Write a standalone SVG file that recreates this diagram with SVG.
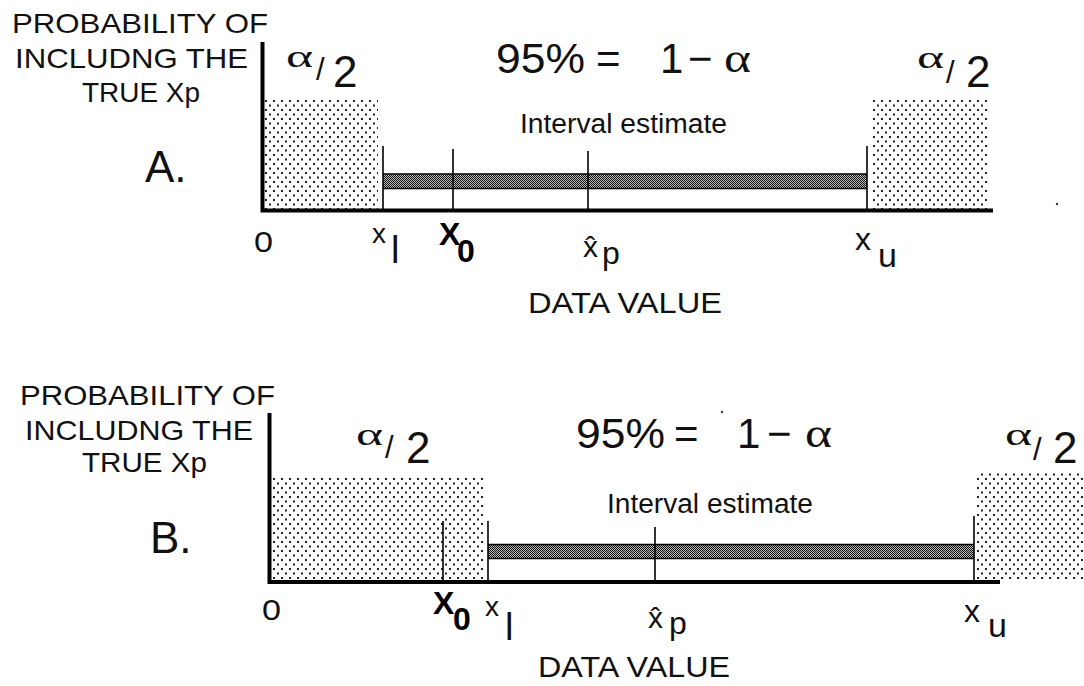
<svg xmlns="http://www.w3.org/2000/svg" width="1084" height="686" viewBox="0 0 1084 686">
<defs>
<pattern id="dots" width="8" height="9" patternUnits="userSpaceOnUse">
<rect x="1" y="1" width="2" height="2" fill="#222"/>
<rect x="5" y="5.5" width="2" height="2" fill="#222"/>
</pattern>
<pattern id="check" width="2" height="2" patternUnits="userSpaceOnUse">
<rect width="2" height="2" fill="#bbb"/>
<rect width="1" height="1" fill="#111"/>
<rect x="1" y="1" width="1" height="1" fill="#111"/>
</pattern>
</defs>
<style>
.t{font-family:"Liberation Sans",Arial,sans-serif;fill:#111}
.s{font-family:"Liberation Serif","Times New Roman",serif;fill:#111}
.b{font-family:"Liberation Sans",Arial,sans-serif;font-weight:bold;fill:#000}
.ax{stroke:#000;stroke-width:4;fill:none}
.tk{stroke:#000;stroke-width:1.6;fill:none}
.stip{fill:url(#dots)}
.bar{fill:url(#check)}
</style>
<rect width="1084" height="686" fill="#fff"/>

<g id="panelA">
  <g id="A-shapes">
    <rect class="stip" x="265" y="98" width="113" height="111"/>
    <rect class="stip" x="873" y="98" width="115" height="111"/>
    <rect class="bar" x="383" y="174" width="484" height="14"/>
    <line class="tk" x1="383" y1="174" x2="867" y2="174" stroke-width="2"/>
    <line class="tk" x1="383" y1="188.5" x2="867" y2="188.5" stroke-width="3"/>
    <line class="tk" x1="383" y1="146" x2="383" y2="210"/>
    <line class="tk" x1="453" y1="149" x2="453" y2="210"/>
    <line class="tk" x1="588" y1="151" x2="588" y2="210"/>
    <line class="tk" x1="867" y1="146" x2="867" y2="210"/>
    <polyline class="ax" points="262.5,42 262.5,210.5 993,210.5"/>
    <circle cx="1057" cy="204" r="1.2" fill="#333"/>
  </g>
  <g id="A-ylabel">
    <text class="t" x="12" y="33" font-size="28" textLength="256" lengthAdjust="spacingAndGlyphs">PROBABILITY OF</text>
    <text class="t" x="15" y="68" font-size="28" textLength="233" lengthAdjust="spacingAndGlyphs">INCLUDNG THE</text>
    <text class="t" x="82" y="102" font-size="28" textLength="118" lengthAdjust="spacingAndGlyphs">TRUE Xp</text>
    <text class="t" x="145" y="182" font-size="44">A.</text>
  </g>
  <g id="A-alpha-left">
    <text class="s" x="286" y="67" font-size="32" textLength="27" lengthAdjust="spacingAndGlyphs">α</text>
    <text class="t" x="316" y="80" font-size="31">/</text>
    <text class="t" x="333" y="87" font-size="44">2</text>
  </g>
  <g id="A-alpha-right">
    <text class="s" x="917" y="68" font-size="32" textLength="27" lengthAdjust="spacingAndGlyphs">α</text>
    <text class="t" x="946" y="83" font-size="31">/</text>
    <text class="t" x="966" y="87" font-size="44">2</text>
  </g>
  <g id="A-conf">
    <text class="t" x="496" y="73" font-size="42" textLength="89" lengthAdjust="spacingAndGlyphs">95%</text>
    <text class="t" x="596" y="73" font-size="42">=</text>
    <text class="t" x="660" y="73" font-size="42">1</text>
    <text class="t" x="688" y="73" font-size="42">−</text>
    <text class="s" x="724" y="72" font-size="42" textLength="27" lengthAdjust="spacingAndGlyphs">α</text>
  </g>
  <text id="A-interval" class="t" x="520" y="133" font-size="27" textLength="207" lengthAdjust="spacingAndGlyphs">Interval estimate</text>
  <g id="A-xlabels">
    <text class="t" x="254" y="252" font-size="30" textLength="19" lengthAdjust="spacingAndGlyphs">0</text>
    <text class="t" x="372" y="243" font-size="28">x</text>
    <text class="t" x="391" y="263" font-size="38">l</text>
    <text class="b" x="439" y="245" font-size="32">X</text>
    <text class="b" x="457" y="262" font-size="32">0</text>
    <text class="t" x="583" y="257" font-size="30">x̂</text>
    <text class="t" x="602" y="264" font-size="32">p</text>
    <text class="t" x="855" y="250" font-size="32">x</text>
    <text class="t" x="878" y="267" font-size="34">u</text>
  </g>
  <text id="A-xtitle" class="t" x="528" y="313" font-size="30" textLength="194" lengthAdjust="spacingAndGlyphs">DATA VALUE</text>
</g>

<g id="panelB">
  <g id="B-shapes">
    <rect class="stip" x="273" y="477" width="210" height="103"/>
    <rect class="stip" x="977" y="473" width="107" height="107"/>
    <rect class="bar" x="488" y="545" width="486" height="13"/>
    <line class="tk" x1="488" y1="544.5" x2="974" y2="544.5" stroke-width="2"/>
    <line class="tk" x1="488" y1="558.5" x2="974" y2="558.5" stroke-width="3"/>
    <line class="tk" x1="443" y1="521" x2="443" y2="581"/>
    <line class="tk" x1="488" y1="521" x2="488" y2="581"/>
    <line class="tk" x1="655" y1="527" x2="655" y2="581"/>
    <line class="tk" x1="974" y1="516" x2="974" y2="581"/>
    <polyline class="ax" points="269.5,413 269.5,582 1000,582"/>
    <circle cx="722" cy="412" r="1.2" fill="#333"/>
  </g>
  <g id="B-ylabel">
    <text class="t" x="20" y="405" font-size="28" textLength="255" lengthAdjust="spacingAndGlyphs">PROBABILITY OF</text>
    <text class="t" x="25" y="440" font-size="28" textLength="228" lengthAdjust="spacingAndGlyphs">INCLUDNG THE</text>
    <text class="t" x="82" y="472" font-size="28" textLength="125" lengthAdjust="spacingAndGlyphs">TRUE Xp</text>
    <text class="t" x="150" y="553" font-size="44">B.</text>
  </g>
  <g id="B-alpha-left">
    <text class="s" x="356" y="445" font-size="32" textLength="27" lengthAdjust="spacingAndGlyphs">α</text>
    <text class="t" x="385" y="458" font-size="31">/</text>
    <text class="t" x="406" y="463" font-size="44">2</text>
  </g>
  <g id="B-alpha-right">
    <text class="s" x="1005" y="445" font-size="32" textLength="27" lengthAdjust="spacingAndGlyphs">α</text>
    <text class="t" x="1033" y="460" font-size="31">/</text>
    <text class="t" x="1053" y="463" font-size="44">2</text>
  </g>
  <g id="B-conf">
    <text class="t" x="576" y="448" font-size="42" textLength="89" lengthAdjust="spacingAndGlyphs">95%</text>
    <text class="t" x="674" y="448" font-size="42">=</text>
    <text class="t" x="737" y="448" font-size="42">1</text>
    <text class="t" x="767" y="448" font-size="42">−</text>
    <text class="s" x="805" y="447" font-size="42" textLength="27" lengthAdjust="spacingAndGlyphs">α</text>
  </g>
  <text id="B-interval" class="t" x="607" y="513" font-size="27" textLength="206" lengthAdjust="spacingAndGlyphs">Interval estimate</text>
  <g id="B-xlabels">
    <text class="t" x="262" y="620" font-size="30" textLength="19" lengthAdjust="spacingAndGlyphs">0</text>
    <text class="b" x="433" y="614" font-size="32">X</text>
    <text class="b" x="453" y="630" font-size="32">0</text>
    <text class="t" x="485" y="616" font-size="28">x</text>
    <text class="t" x="505" y="640" font-size="38">l</text>
    <text class="t" x="648" y="628" font-size="30">x̂</text>
    <text class="t" x="669" y="634" font-size="32">p</text>
    <text class="t" x="964" y="622" font-size="32">x</text>
    <text class="t" x="988" y="637" font-size="34">u</text>
  </g>
  <text id="B-xtitle" class="t" x="538" y="677" font-size="30" textLength="192" lengthAdjust="spacingAndGlyphs">DATA VALUE</text>
</g>
</svg>
